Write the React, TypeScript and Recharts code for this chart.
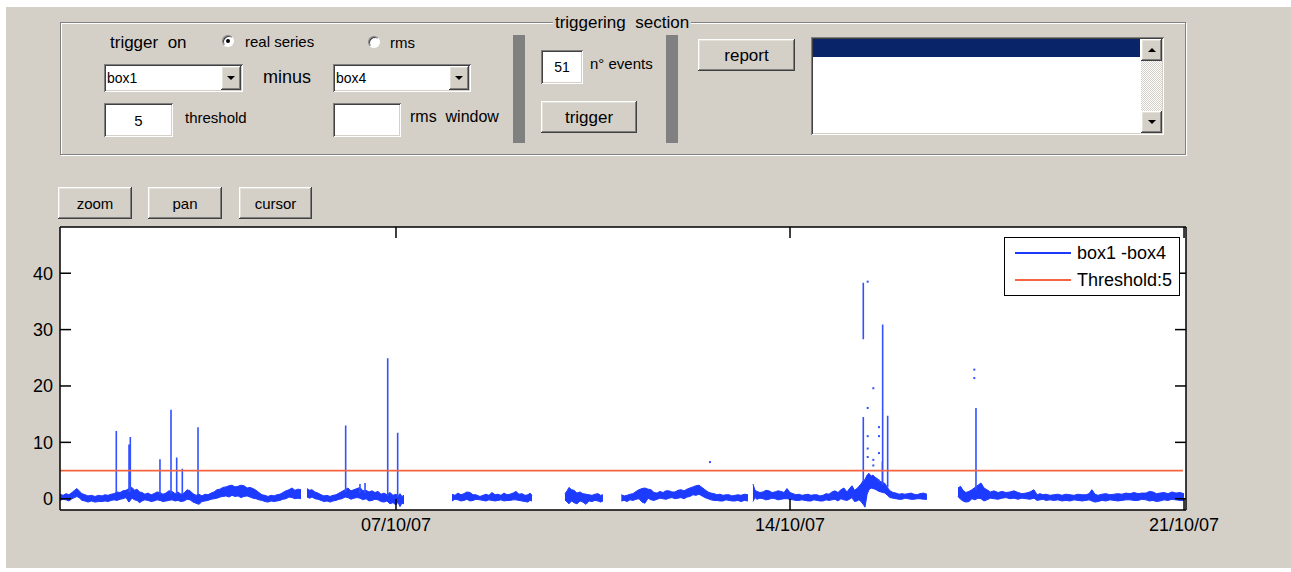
import React from 'react';
import { ComposedChart, Area, Line, Scatter, XAxis, YAxis, CartesianGrid } from 'recharts';

const FONT = '"Liberation Sans", Arial, Helvetica, sans-serif';
const GRAY = '#d4d0c8';
const BAND_BLUE = '#1d3bff';
const SPIKE_BLUE = '#3252ff';
const RED = '#f4643f';

// ---- axes ----
const xDomain: [number, number] = [1.031, 21.035];
const yDomain: [number, number] = [-2, 48.2];
const xTicks = [7, 14, 21];
const xTickLabels = ['07/10/07', '14/10/07', '21/10/07'];
const yTicks = [0, 10, 20, 30, 40];
const seriesNames = ['box1 -box4', 'Threshold:5'];

// ---- threshold ----
const thresholdDays = [1.031, 20.98];
const thresholdLevel = 5;

// ---- band segments of box1 - box4 : [day, low, high] ----
type Seg = [number, number, number][];
const segA: Seg = [
  [1.031, -0.3, 0.8], [1.085, -0.1, 0.6], [1.138, -0.2, 0.9], [1.190, -0.4, 0.7], [1.244, 0.0, 1.1], [1.290, 0.2, 1.5], [1.333, 0.4, 1.8], [1.380, 0.1, 1.3], [1.422, -0.3, 0.9],
  [1.475, -0.4, 0.7], [1.528, -0.6, 0.5], [1.590, -0.4, 0.6], [1.653, -0.6, 0.4], [1.715, -0.5, 0.6], [1.777, -0.5, 0.5], [1.830, -0.4, 0.7], [1.884, -0.5, 0.6], [1.940, -0.3, 0.8], [1.990, -0.2, 0.9],
  [2.045, -0.3, 1.2], [2.097, -0.1, 1.1], [2.150, 0.0, 1.4], [2.203, 0.2, 1.5], [2.255, -0.6, 1.8], [2.310, 0.1, 2.0], [2.355, -0.2, 1.5], [2.399, -0.3, 1.7], [2.445, -0.7, 1.2], [2.488, -0.4, 1.1],
  [2.540, -0.2, 0.8], [2.594, -0.3, 1.0], [2.650, -0.5, 0.7], [2.701, -0.4, 0.9], [2.755, -0.2, 1.2], [2.807, -0.3, 1.1], [2.860, -0.5, 0.8], [2.914, -0.4, 1.0], [2.965, -0.3, 1.4], [3.021, -0.2, 1.3],
  [3.075, -0.4, 0.9], [3.127, -0.3, 1.2], [3.180, -0.5, 0.8], [3.234, -0.4, 1.0], [3.290, -0.1, 1.6], [3.340, -0.2, 1.4], [3.395, -0.6, 0.9], [3.447, -0.8, 0.6], [3.500, -1.0, 0.8], [3.554, -0.5, 0.5],
  [3.607, -0.4, 0.8], [3.660, -0.3, 0.7], [3.715, -0.1, 1.0], [3.767, 0.0, 1.2], [3.820, 0.1, 1.6], [3.873, 0.3, 1.7], [3.925, 0.4, 2.0], [3.980, 0.5, 2.1], [4.035, 0.3, 2.3], [4.087, 0.6, 2.4],
  [4.140, 0.4, 2.1], [4.193, 0.5, 2.2], [4.245, 0.2, 2.4], [4.300, 0.4, 2.3], [4.355, 0.5, 1.9], [4.406, 0.3, 2.0], [4.460, 0.1, 1.8], [4.513, 0.0, 1.5], [4.565, -0.2, 1.1], [4.619, -0.3, 0.7],
  [4.672, -0.5, 0.6], [4.726, -0.6, 0.4], [4.780, -0.4, 0.6], [4.833, -0.5, 0.5], [4.885, -0.4, 0.7], [4.939, -0.3, 0.8], [4.990, -0.1, 1.1], [5.046, 0.0, 1.4], [5.100, 0.3, 1.6], [5.152, 0.2, 1.9],
  [5.205, 0.0, 1.5], [5.259, 0.1, 1.7], [5.312, 0.0, 1.6],
];
const segB: Seg = [
  [5.419, 0.3, 1.8], [5.465, 0.1, 1.5], [5.508, 0.3, 1.6], [5.560, 0.0, 1.2], [5.614, -0.1, 1.0], [5.668, -0.3, 0.7], [5.721, -0.5, 0.5], [5.775, -0.4, 0.6], [5.828, -0.6, 0.4],
  [5.880, -0.4, 0.6], [5.934, -0.3, 0.7], [5.988, -0.1, 1.0], [6.041, 0.0, 1.3], [6.095, 0.3, 1.6], [6.147, 0.2, 1.9], [6.200, -0.1, 1.4], [6.254, 0.1, 1.6], [6.307, 0.2, 1.8], [6.360, 0.1, 2.0],
  [6.413, -0.2, 1.4], [6.467, 0.0, 1.5], [6.520, -0.4, 1.2], [6.574, -0.3, 1.4], [6.627, -0.1, 1.1], [6.680, -0.2, 1.3], [6.735, -0.5, 0.8], [6.787, -0.6, 1.0], [6.840, -0.4, 0.7], [6.893, -0.9, 1.1],
  [6.947, -0.7, 0.6], [7.000, -1.1, 0.8], [7.035, -0.6, 0.5], [7.071, -1.4, 0.9], [7.105, -0.8, 0.4], [7.142, -0.9, 0.6],
];
const segC: Seg = [
  [7.995, -0.4, 0.8], [8.048, -0.1, 0.6], [8.101, -0.2, 1.0], [8.155, -0.4, 0.7], [8.208, -0.3, 0.9], [8.260, -0.1, 1.2], [8.315, -0.4, 1.1], [8.368, -0.3, 0.7], [8.421, -0.1, 0.7],
  [8.492, -0.2, 0.4], [8.545, -0.3, 0.6], [8.599, -0.4, 0.8], [8.652, -0.2, 0.6], [8.705, -0.3, 1.1], [8.760, -0.4, 0.7], [8.812, -0.3, 0.8], [8.865, -0.2, 0.6], [8.919, -0.4, 1.0],
  [8.972, -0.3, 0.7], [9.025, -0.3, 0.8], [9.080, -0.2, 1.0], [9.132, -0.2, 1.3], [9.185, -0.3, 0.8], [9.238, -0.4, 0.9], [9.292, -0.5, 0.6], [9.345, -0.6, 0.7], [9.380, -0.3, 1.0], [9.416, -0.4, 0.6],
];
const segD: Seg = [
  [10.002, -0.2, 0.9], [10.040, -0.6, 1.4], [10.073, -0.9, 2.0], [10.120, -0.4, 1.6], [10.162, -0.7, 1.5], [10.215, -0.9, 1.0], [10.269, -0.4, 1.2], [10.320, -0.6, 0.9], [10.375, -1.0, 0.8],
  [10.430, -0.4, 0.7], [10.482, -0.5, 0.6], [10.535, -0.3, 0.8], [10.589, -0.4, 0.9], [10.635, -0.6, 0.6], [10.677, -0.4, 0.7],
];
const segE: Seg = [
  [11.003, -0.4, 0.7], [11.055, -0.3, 0.5], [11.104, -0.5, 0.6], [11.158, -0.2, 0.8], [11.210, -0.3, 0.9], [11.265, -0.1, 1.3], [11.317, 0.0, 1.6], [11.370, -0.6, 1.8], [11.423, -0.8, 1.9],
  [11.478, 0.1, 1.7], [11.530, -0.2, 1.6], [11.585, -0.3, 1.1], [11.637, -0.1, 1.0], [11.690, 0.1, 1.3], [11.743, 0.0, 1.1], [11.797, -0.1, 1.4], [11.850, 0.1, 1.4], [11.903, 0.2, 1.2], [11.956, 0.0, 1.2],
  [12.010, 0.1, 1.5], [12.063, 0.2, 1.6], [12.117, 0.0, 1.4], [12.170, 0.3, 1.7], [12.222, 0.4, 1.9], [12.276, 0.7, 2.1], [12.330, 0.6, 2.3], [12.383, 0.8, 2.4], [12.436, 0.5, 2.0], [12.489, 0.2, 1.6],
  [12.543, 0.0, 1.2], [12.596, -0.2, 1.0], [12.650, -0.3, 0.9], [12.703, -0.3, 0.7], [12.756, -0.4, 0.8], [12.809, -0.4, 0.6], [12.862, -0.2, 0.7], [12.916, -0.3, 0.7], [12.970, -0.4, 0.5],
  [13.022, -0.4, 0.6], [13.075, -0.3, 0.7], [13.129, -0.5, 0.6], [13.190, -0.3, 0.8], [13.253, -0.4, 0.7],
];
const segF: Seg = [
  [13.342, -0.5, 2.6], [13.378, 0.2, 1.5], [13.413, -0.1, 1.3], [13.466, 0.1, 1.1], [13.520, 0.0, 1.2], [13.573, -0.2, 1.5], [13.626, -0.1, 1.4], [13.680, 0.1, 1.1], [13.733, 0.0, 1.2],
  [13.787, -0.2, 1.4], [13.840, -0.1, 1.3], [13.893, 0.0, 1.1], [13.946, 0.0, 1.8], [14.000, -0.1, 1.1], [14.053, -0.2, 0.9], [14.106, -0.3, 0.7], [14.159, -0.3, 0.8], [14.212, -0.2, 0.6],
  [14.266, -0.3, 0.7], [14.320, -0.4, 0.8], [14.372, -0.4, 0.6], [14.425, -0.2, 0.7], [14.479, -0.3, 0.7], [14.532, -0.4, 0.5], [14.586, -0.4, 0.6], [14.640, -0.2, 0.9], [14.692, -0.3, 0.8],
  [14.745, -0.2, 1.2], [14.799, -0.1, 1.4], [14.852, -0.4, 1.1], [14.905, 0.0, 1.6], [14.958, -0.2, 1.9], [15.012, -0.3, 1.2], [15.056, -0.1, 1.8], [15.101, 0.2, 2.3], [15.145, -0.5, 1.5],
  [15.190, -0.4, 1.8], [15.225, -0.2, 2.2], [15.261, -0.5, 2.6], [15.300, -1.0, 3.2], [15.332, -1.5, 3.4], [15.370, 0.8, 4.2], [15.403, 1.6, 4.5], [15.440, 1.9, 4.0], [15.474, 1.8, 4.2],
  [15.510, 1.7, 3.8], [15.545, 1.5, 3.6], [15.580, 1.3, 3.3], [15.616, 1.2, 3.0], [15.650, 1.1, 2.9], [15.687, 1.0, 2.7], [15.730, 0.6, 2.0], [15.776, 0.2, 1.4], [15.830, 0.1, 1.1],
  [15.883, 0.0, 1.0], [15.936, -0.1, 0.8], [15.989, -0.1, 0.9], [16.042, 0.1, 0.8], [16.096, 0.0, 0.9], [16.150, -0.1, 1.0], [16.202, -0.1, 0.8], [16.255, 0.0, 0.7], [16.309, 0.0, 0.9],
  [16.370, -0.1, 1.0], [16.433, -0.1, 0.8],
];
const segG: Seg = [
  [16.984, 0.4, 1.9], [17.030, -0.1, 2.2], [17.073, -0.4, 1.5], [17.125, -0.6, 1.1], [17.179, -0.5, 1.3], [17.232, 0.0, 1.6], [17.286, -0.2, 2.0], [17.340, 0.1, 2.4], [17.393, 0.0, 2.8],
  [17.446, -0.4, 1.9], [17.499, -0.2, 1.6], [17.560, 0.1, 1.2], [17.623, 0.0, 1.4], [17.695, -0.1, 1.1], [17.766, 0.1, 1.3], [17.837, 0.2, 1.1], [17.908, 0.0, 1.2], [17.980, 0.1, 1.4],
  [18.050, -0.1, 1.1], [18.120, 0.1, 0.9], [18.192, 0.0, 1.0], [18.263, -0.1, 1.2], [18.334, 0.1, 1.6], [18.390, -0.3, 0.7], [18.441, -0.2, 0.9], [18.494, -0.1, 0.7], [18.547, -0.3, 0.8],
  [18.618, -0.2, 0.6], [18.689, -0.3, 0.7], [18.760, -0.2, 0.8], [18.831, -0.4, 0.6], [18.902, -0.3, 0.8], [18.974, -0.4, 0.7], [19.045, -0.2, 0.6], [19.116, -0.3, 0.8], [19.187, -0.4, 0.7],
  [19.258, -0.3, 0.7], [19.311, -0.2, 0.9], [19.364, -0.4, 1.6], [19.418, -0.6, 0.8], [19.471, -0.5, 0.6], [19.542, -0.3, 0.8], [19.613, -0.4, 0.9], [19.684, -0.2, 0.7], [19.755, -0.3, 0.8],
  [19.826, -0.4, 0.9], [19.897, -0.3, 0.8], [19.968, -0.2, 1.0], [20.040, -0.2, 0.9], [20.111, -0.3, 1.1], [20.182, -0.3, 0.9], [20.253, -0.1, 1.0], [20.324, -0.2, 1.0], [20.386, -0.4, 1.3],
  [20.448, -0.3, 1.2], [20.510, -0.5, 0.9], [20.572, -0.4, 1.0], [20.643, -0.2, 1.1], [20.715, -0.3, 0.9], [20.786, -0.1, 1.2], [20.857, -0.2, 1.0], [20.928, -0.3, 1.1], [20.999, -0.3, 0.9],
];
const bandSegments: Seg[] = [segA, segB, segC, segD, segE, segF, segG];

// ---- spikes : [day, from, to] ----
const spikes: [number, number, number][] = [
  [2.031, 1.0, 12.0], [2.257, 1.2, 9.6], [2.280, 1.2, 10.95], [2.807, 0.8, 7.0],
  [3.003, 0.8, 15.8], [3.104, 0.8, 7.3], [3.204, 0.8, 5.3], [3.483, 0.6, 12.7],
  [6.106, 1.2, 13.0], [6.360, 1.0, 2.6], [6.450, 1.0, 2.8], [6.853, 0.5, 24.9],
  [7.030, 0.3, 11.7], [15.302, 3.0, 14.5], [15.302, 28.3, 38.3], [15.640, 2.5, 6.6],
  [15.646, 2.5, 30.9], [15.735, 2.0, 14.7], [17.304, 1.5, 16.1],
];

// ---- isolated samples : [day, value] ----
const isolated: [number, number][] = [
  [12.578, 6.5], [15.380, 38.5], [15.380, 16.1], [15.380, 11.1], [15.380, 8.9], [15.380, 7.4],
  [15.480, 19.6], [15.480, 6.9], [15.480, 5.9], [15.581, 12.7], [15.581, 11.1], [15.581, 8.1],
  [15.581, 3.2], [17.274, 22.9], [17.274, 21.4],
];

// ---- build rows ----
const bandRows: { d: number; band: [number, number] | null }[] = [];
bandSegments.forEach((seg, i) => {
  if (i > 0) {
    const prev = bandSegments[i - 1];
    bandRows.push({ d: (prev[prev.length - 1][0] + seg[0][0]) / 2, band: null });
  }
  seg.forEach(([d, lo, hi]) => bandRows.push({ d, band: [lo, hi] }));
});
const spikeRows: { d: number; v: number | null }[] = [];
spikes.forEach(([d, a, b]) => {
  spikeRows.push({ d, v: a }, { d, v: b }, { d, v: null });
});
const dotRows = isolated.map(([d, v]) => ({ d, v }));
const thresholdRows = thresholdDays.map((d) => ({ d, v: thresholdLevel }));

const fmtX = (v: number) => {
  const i = xTicks.indexOf(v);
  return i >= 0 ? xTickLabels[i] : '';
};

const renderDot = (p: any) => (
  <rect x={p.cx - 1} y={p.cy - 1} width={2} height={2} fill={SPIKE_BLUE} />
);
const noLabel = () => <g />;

// ---- GUI widgets ----
const raised: React.CSSProperties = {
  background: GRAY,
  boxShadow: 'inset -1px -1px #404040, inset 1px 1px #ffffff, inset -2px -2px #808080, inset 2px 2px #e4e1da',
};
const sunken: React.CSSProperties = {
  background: '#fff',
  boxShadow: 'inset 1px 1px #808080, inset -1px -1px #ffffff, inset 2px 2px #404040, inset -2px -2px #d4d0c8',
};

const Label = ({ x, y, size, children }: any) => (
  <div style={{ position: 'absolute', left: x, top: y, transform: 'translateY(-50%)', fontSize: size, lineHeight: 1, whiteSpace: 'pre', fontFamily: FONT, color: '#000' }}>
    {children}
  </div>
);

const Button = ({ x, y, w, h, size, children }: any) => (
  <div style={{ position: 'absolute', left: x, top: y, width: w, height: h, ...raised, display: 'flex', alignItems: 'center', justifyContent: 'center', fontSize: size, fontFamily: FONT, color: '#000', lineHeight: 1 }}>
    {children}
  </div>
);

const Edit = ({ x, y, w, h, size, children }: any) => (
  <div style={{ position: 'absolute', left: x, top: y, width: w, height: h, ...sunken, display: 'flex', alignItems: 'center', justifyContent: 'center', fontSize: size, fontFamily: FONT, color: '#000', lineHeight: 1 }}>
    {children}
  </div>
);

const Tri = ({ up }: any) => (
  <div style={up
    ? { width: 0, height: 0, borderLeft: '4px solid transparent', borderRight: '4px solid transparent', borderBottom: '4px solid #000' }
    : { width: 0, height: 0, borderLeft: '4px solid transparent', borderRight: '4px solid transparent', borderTop: '4px solid #000' }} />
);

const Drop = ({ x, y, w, h, text }: any) => (
  <div style={{ position: 'absolute', left: x, top: y, width: w, height: h, ...sunken }}>
    <div style={{ position: 'absolute', left: 3, top: 0, height: h, display: 'flex', alignItems: 'center', fontSize: 14, fontFamily: FONT, color: '#000' }}>{text}</div>
    <div style={{ position: 'absolute', right: 2, top: 2, width: 20, height: h - 4, ...raised, display: 'flex', alignItems: 'center', justifyContent: 'center' }}>
      <Tri />
    </div>
  </div>
);

const Radio = ({ cx, cy, on }: any) => (
  <div style={{ position: 'absolute', left: cx - 6, top: cy - 6, width: 12, height: 12, borderRadius: '50%', background: '#fff', boxSizing: 'border-box', border: '1px solid', borderColor: '#808080 #ffffff #ffffff #808080', boxShadow: 'inset 1px 1px #404040' }}>
    {on && <div style={{ position: 'absolute', left: 3, top: 3, width: 4, height: 4, borderRadius: '50%', background: '#000' }} />}
  </div>
);

const Legend = () => (
  <div style={{ position: 'absolute', left: 1004, top: 237, width: 176, height: 59, background: '#fff', border: '1.5px solid #000', boxSizing: 'border-box', fontFamily: FONT }}>
    {[BAND_BLUE, RED].map((c, i) => (
      <React.Fragment key={i}>
        <div style={{ position: 'absolute', left: 10, top: 14 + i * 26.5, width: 56, height: 2, background: c }} />
        <div style={{ position: 'absolute', left: 72, top: 15 + i * 26.5, transform: 'translateY(-50%)', fontSize: 18, lineHeight: 1, whiteSpace: 'pre', color: '#000' }}>{seriesNames[i]}</div>
      </React.Fragment>
    ))}
  </div>
);

const tickStroke = { stroke: '#000', strokeWidth: 1.5 };

export default function App() {
  return (
    <div style={{ position: 'relative', width: 1291, height: 572, background: '#fff', overflow: 'hidden', fontFamily: FONT }}>
      <style>{'body{margin:0}'}</style>
      <div style={{ position: 'absolute', left: 6, top: 7, width: 1285, height: 561, background: GRAY }} />

      <div style={{ position: 'absolute', left: 0, top: 0 }}>
        <ComposedChart width={1291} height={572} data={bandRows} margin={{ top: 227, right: 105, bottom: 32, left: 0 }}>
          <CartesianGrid horizontal={false} vertical={false} fill="#ffffff" />
          <XAxis dataKey="d" type="number" domain={xDomain} ticks={xTicks} tickFormatter={fmtX} interval={0} allowDataOverflow height={30}
            tickLine={false} tickSize={0} tickMargin={8} axisLine={tickStroke}
            tick={{ fill: '#000', fontSize: 18, fontFamily: FONT }} />
          <YAxis type="number" domain={yDomain} ticks={yTicks} interval={0} allowDataOverflow width={60}
            tickLine={false} tickSize={0} tickMargin={7} axisLine={tickStroke}
            tick={{ fill: '#000', fontSize: 18, fontFamily: FONT }} />
          <XAxis xAxisId="top" orientation="top" mirror height={1} dataKey="d" type="number" domain={xDomain} ticks={xTicks} interval={0} allowDataOverflow
            tick={noLabel} tickSize={11} tickLine={tickStroke} axisLine={tickStroke} />
          <XAxis xAxisId="btm" orientation="bottom" mirror height={1} dataKey="d" type="number" domain={xDomain} ticks={xTicks} interval={0} allowDataOverflow
            tick={noLabel} tickSize={11} tickLine={tickStroke} axisLine={false} />
          <YAxis yAxisId="lt" orientation="left" mirror width={1} type="number" domain={yDomain} ticks={yTicks} interval={0} allowDataOverflow
            tick={noLabel} tickSize={11} tickLine={tickStroke} axisLine={false} />
          <YAxis yAxisId="rt" orientation="right" mirror width={1} type="number" domain={yDomain} ticks={yTicks} interval={0} allowDataOverflow
            tick={noLabel} tickSize={11} tickLine={tickStroke} axisLine={tickStroke} />

          <Area dataKey="band" type="linear" stroke={BAND_BLUE} strokeWidth={1} fill={BAND_BLUE} fillOpacity={1}
            dot={false} activeDot={false} connectNulls={false} isAnimationActive={false} />
          <Line data={spikeRows} dataKey="v" type="linear" stroke={SPIKE_BLUE} strokeWidth={1.6} dot={false} activeDot={false}
            connectNulls={false} isAnimationActive={false} />
          <Scatter data={dotRows} dataKey="v" shape={renderDot} isAnimationActive={false} />
          <Line data={thresholdRows} dataKey="v" type="linear" stroke={RED} strokeWidth={1.8} dot={false} activeDot={false}
            isAnimationActive={false} />
        </ComposedChart>
      </div>

      <Legend />

      {/* triggering section panel */}
      <div style={{ position: 'absolute', left: 60, top: 22, width: 1124, height: 131, border: '1px solid #808080', boxShadow: '1px 1px 0 #ffffff, inset 1px 1px 0 #ffffff' }} />
      <div style={{ position: 'absolute', left: 622, top: 22, transform: 'translate(-50%,-50%)', background: GRAY, padding: '0 2px', fontSize: 17, lineHeight: 1, whiteSpace: 'pre', color: '#000' }}>triggering  section</div>

      <Label x={110} y={42} size={17}>trigger  on</Label>
      <Radio cx={228} cy={41} on />
      <Label x={245} y={41} size={15}>real series</Label>
      <Radio cx={374} cy={42} />
      <Label x={390} y={42} size={15}>rms</Label>

      <Drop x={104} y={64} w={139} h={28} text="box1" />
      <Label x={263} y={77} size={18}>minus</Label>
      <Drop x={333} y={64} w={138} h={28} text="box4" />

      <Edit x={104} y={103} w={69} h={34} size={15}>5</Edit>
      <Label x={185} y={117} size={15}>threshold</Label>
      <Edit x={333} y={103} w={68} h={34} size={15}></Edit>
      <Label x={410} y={117} size={16}>rms  window</Label>

      <div style={{ position: 'absolute', left: 513, top: 35, width: 12, height: 108, background: '#808080' }} />
      <Edit x={541} y={50} w={42} h={34} size={14}>51</Edit>
      <Label x={590} y={63} size={15}>n° events</Label>
      <Button x={541} y={101} w={96} h={32} size={17}>trigger</Button>
      <div style={{ position: 'absolute', left: 666, top: 35, width: 12, height: 108, background: '#808080' }} />

      <Button x={698} y={39} w={97} h={32} size={17}>report</Button>

      <div style={{ position: 'absolute', left: 811, top: 37, width: 353, height: 98, ...sunken }}>
        <div style={{ position: 'absolute', left: 2, top: 2, width: 327, height: 18, background: '#0a246a' }} />
        <div style={{ position: 'absolute', right: 2, top: 2, bottom: 2, width: 21, background: 'repeating-conic-gradient(#ffffff 0 25%, #d4d0c8 0 50%) 0 0/2px 2px' }}>
          <div style={{ position: 'absolute', left: 0, top: 0, width: 21, height: 22, ...raised, display: 'flex', alignItems: 'center', justifyContent: 'center' }}><Tri up /></div>
          <div style={{ position: 'absolute', left: 0, bottom: 0, width: 21, height: 22, ...raised, display: 'flex', alignItems: 'center', justifyContent: 'center' }}><Tri /></div>
        </div>
      </div>

      <Button x={58} y={187} w={74} h={32} size={15}>zoom</Button>
      <Button x={148} y={187} w={74} h={32} size={15}>pan</Button>
      <Button x={239} y={187} w={73} h={32} size={15}>cursor</Button>
    </div>
  );
}
